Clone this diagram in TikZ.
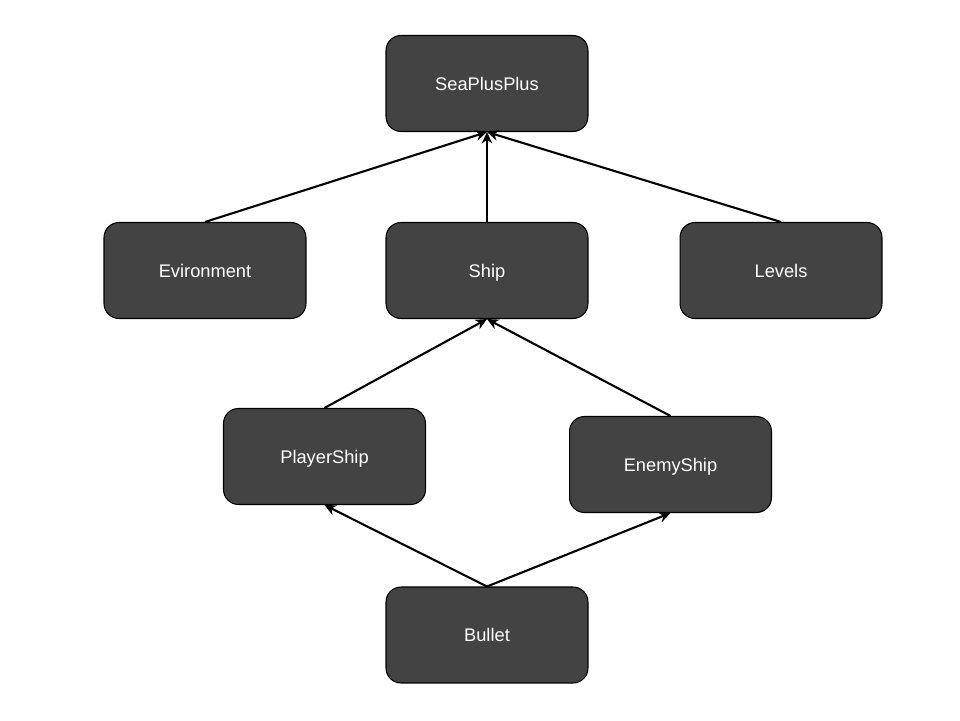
\documentclass[tikz,border=0pt]{standalone}
\usepackage{fontspec}
\setmainfont{Liberation Sans}
\usepackage{tikz}
\usetikzlibrary{arrows.meta}

\definecolor{boxgray}{HTML}{434343}
\tikzset{
  box/.style={draw=black, fill=boxgray, rounded corners=0.3cm, line width=0.6pt,
    minimum width=4.04cm, minimum height=1.92cm, text=white,
    text height=7.4pt, text depth=0pt,
    font=\fontsize{10.4}{12}\selectfont},
  inherit/.style={-{Stealth[length=6.5pt,width=6pt]}, line width=1.2pt}
}

\begin{document}
\begin{tikzpicture}[x=0.02cm, y=-0.02cm]
            \useasboundingbox (0,0) rectangle (960,720);
            \node [box] (sea) at (487,83.5) {SeaPlusPlus};
            \node [box] (env) at (205,270.5) {Evironment};
            \node [box] (ship) at (487,270.5) {Ship};
            \node [box] (levels) at (781,270.5) {Levels};
            \node [box] (player) at (324.5,456.5) {PlayerShip};
            \node [box] (enemy) at (670.5,464.5) {EnemyShip};
            \node [box] (bullet) at (487,635) {Bullet};
            \path (env.north) edge [inherit] (sea.south);
            \path (ship.north) edge [inherit] (sea.south);
            \path (levels.north) edge [inherit] (sea.south);
            \path (player.north) edge [inherit] (ship.south);
            \path (enemy.north) edge [inherit] (ship.south);
            \path (bullet.north) edge [inherit] (player.south);
            \path (bullet.north) edge [inherit] (enemy.south);
        \end{tikzpicture}
\end{document}
